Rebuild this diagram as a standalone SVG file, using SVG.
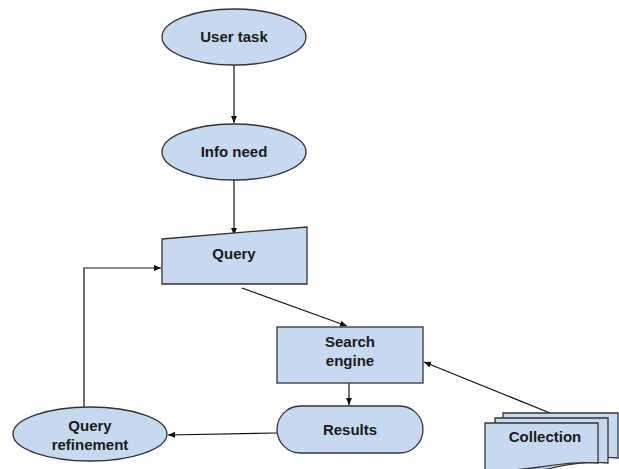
<svg xmlns="http://www.w3.org/2000/svg" width="619" height="469" viewBox="0 0 619 469">
<defs>
<style>
.s{fill:#c6d9f0;stroke:#333;stroke-width:1.3}
.t{font-family:"Liberation Sans",Arial,sans-serif;font-weight:bold;font-size:15px;fill:#1a1a1a;text-anchor:middle}
.c{fill:none;stroke:#111;stroke-width:1.2}
</style>
<marker id="a" markerWidth="8" markerHeight="8" refX="7" refY="4" orient="auto" markerUnits="userSpaceOnUse">
<path d="M0,1 L7,4 L0,7 Z" fill="#111"/>
</marker>
</defs>
<rect width="619" height="469" fill="#fff"/>
<g id="connectors">
<line class="c" x1="234" y1="65" x2="234" y2="123" marker-end="url(#a)"/>
<line class="c" x1="234" y1="180" x2="234" y2="235" marker-end="url(#a)"/>
<line class="c" x1="242" y1="288" x2="347" y2="326" marker-end="url(#a)"/>
<line class="c" x1="349" y1="383" x2="349" y2="405" stroke-width="2" marker-end="url(#a)"/>
<line class="c" x1="277" y1="433" x2="168" y2="435" marker-end="url(#a)"/>
<polyline class="c" points="84,407 84,268 161,268" marker-end="url(#a)"/>
<line class="c" x1="550" y1="413" x2="424" y2="362" marker-end="url(#a)"/>
</g>
<g id="user-task">
<ellipse class="s" cx="234" cy="37" rx="72" ry="28"/>
<text class="t" x="234" y="42">User task</text>
</g>
<g id="info-need">
<ellipse class="s" cx="234" cy="152" rx="72" ry="28"/>
<text class="t" x="234" y="157">Info need</text>
</g>
<g id="query">
<path class="s" d="M162,239 L307,227 L307,284 L162,284 Z"/>
<text class="t" x="234" y="259">Query</text>
</g>
<g id="search-engine">
<rect class="s" x="277" y="327" width="146" height="56"/>
<text class="t" x="350" y="347">Search</text>
<text class="t" x="350" y="366">engine</text>
</g>
<g id="results">
<rect class="s" x="277" y="406" width="146" height="47" rx="23.5" ry="23.5"/>
<text class="t" x="350" y="435">Results</text>
</g>
<g id="query-refinement">
<ellipse class="s" cx="90" cy="434" rx="77" ry="27"/>
<text class="t" x="90" y="431">Query</text>
<text class="t" x="90" y="450">refinement</text>
</g>
<g id="collection">
<path class="s" d="M503,413 L618,413 L618,458 C590,455 570,462 545,466 C530,468 515,468 503,466 Z"/>
<path class="s" d="M495,418 L608,418 L608,463 C580,460 560,467 535,471 C520,473 505,473 495,471 Z"/>
<path class="s" d="M485,423 L598,423 L598,463 C575,461 555,465 540,467 C520,470 500,471 485,470 Z"/>
<text class="t" x="545" y="442">Collection</text>
</g>
</svg>
